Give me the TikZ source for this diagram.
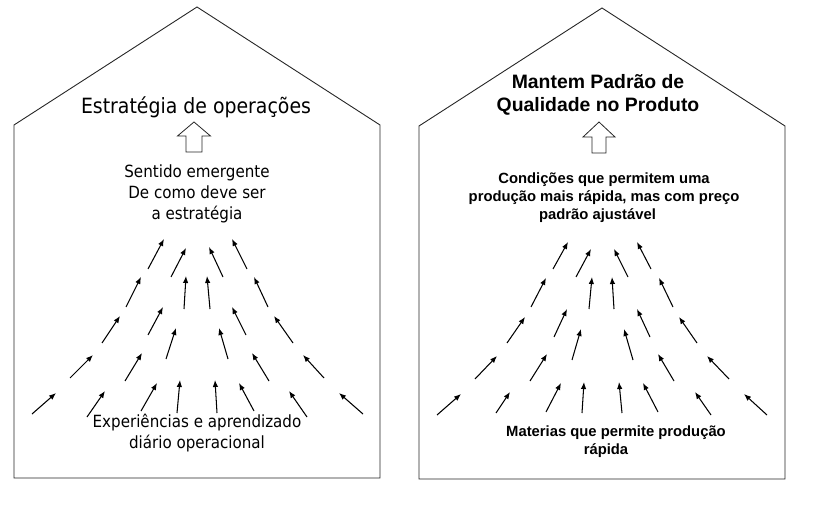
\documentclass[tikz,border=0pt]{standalone}
\usepackage{fontspec}
\setmainfont{Liberation Sans}
\newfontfamily\condfont{DejaVu Sans Condensed}
\usetikzlibrary{arrows.meta}
\tikzset{
  house/.style={draw=black!85,line width=0.9pt,line join=miter},
  hollow/.style={draw=black!85,line width=0.8pt,fill=white},
  flow/.style={draw=black,line width=1.05pt,-{Latex[length=7pt,width=5.5pt]}},
  lefttitle/.style={font=\condfont\fontsize{21}{25}\selectfont,inner sep=0pt,align=center},
  lefttext/.style={font=\condfont\fontsize{16.8}{21}\selectfont,inner sep=0pt,align=center},
  righttitle/.style={font=\bfseries\fontsize{19.4}{23}\selectfont,inner sep=0pt,align=center},
  righttext/.style={font=\bfseries\fontsize{14.8}{18}\selectfont,inner sep=0pt,align=center},
}
\begin{document}
\begin{tikzpicture}[x=1pt,y=-1pt]
\useasboundingbox (0,0) rectangle (821,510);
% houses
\draw[house] (14,125) -- (197,7) -- (380,125) -- (380,478) -- (14,478) -- cycle;
\draw[house] (419,126) -- (602,8) -- (785,126) -- (785,479) -- (419,479) -- cycle;
% hollow arrows
\draw[hollow] (194,122) -- (210.5,136) -- (202,136) -- (202,152) -- (186,152) -- (186,136) -- (177.5,136) -- cycle;
\draw[hollow] (599,122) -- (615,137) -- (606,137) -- (606,153) -- (592,153) -- (592,137) -- (583,137) -- cycle;
% left texts
\node[lefttitle] (ltitle) at (196,107) {Estratégia de operações};
\node[lefttext] (lmid) at (197,194) {Sentido emergente\\De como deve ser\\a estratégia};
\node[lefttext] (lbot) at (197,433) {Experiências e aprendizado\\diário operacional};
% right texts
\node[righttitle] (rtitle) at (598,95) {Mantem Padrão de\\Qualidade no Produto};
\node[righttext] (rmid) at (604,198) {Condições que permitem uma\\produção mais rápida, mas com preço\\padrão ajustável\hspace*{13pt}};
\node[righttext] (rbot1) at (616,433) {Materias que permite produção};
\node[righttext] (rbot2) at (606,451) {rápida};
% left flow arrows
\foreach \i/\tx/\ty/\hx/\hy in {
1/148/269/164/239, 2/171/277/186/248, 3/223/277/209/247, 4/247/269/232/239,
5/126/307/141/277, 6/184/309/186/276, 7/210/309/207/276, 8/268/307/254/277,
9/102/343/120/316, 10/148/335/163/307, 11/246/335/232/307, 12/293/343/274/316,
13/166/359/176/328, 14/228/359/219/328,
15/70/378/93/355, 16/125/381/142/353, 17/269/381/252/353, 18/324/378/303/355,
19/32/414/56/393, 20/87/417/105/391, 21/141/411/157/383, 22/177/413/180/380,
23/217/413/215/380, 24/254/411/239/383, 25/307/417/289/391, 26/363/414/339/393}{
  \coordinate (lt\i) at (\tx,\ty);
  \coordinate (lh\i) at (\hx,\hy);
  \draw[flow] (lt\i) -- (lh\i);
}
% right flow arrows
\foreach \i/\tx/\ty/\hx/\hy in {
1/553/269/568/242, 2/576/277/591/249, 3/628/277/614/249, 4/651/269/637/242,
5/531/307/546/278, 6/589/309/592/277, 7/614/309/612/277, 8/673/307/659/278,
9/507/343/525/317, 10/554/337/567/309, 11/650/337/637/309, 12/697/343/679/317,
13/572/360/581/329, 14/633/360/624/329,
15/475/379/497/356, 16/530/381/547/354, 17/674/381/658/354, 18/729/379/707/356,
19/437/415/461/394, 20/496/413/510/392, 21/546/412/561/383, 22/582/413/584/382,
23/622/413/619/382, 24/658/412/643/383, 25/711/415/695/392, 26/767/415/744/394}{
  \coordinate (rt\i) at (\tx,\ty);
  \coordinate (rh\i) at (\hx,\hy);
  \draw[flow] (rt\i) -- (rh\i);
}
\end{tikzpicture}
\end{document}
